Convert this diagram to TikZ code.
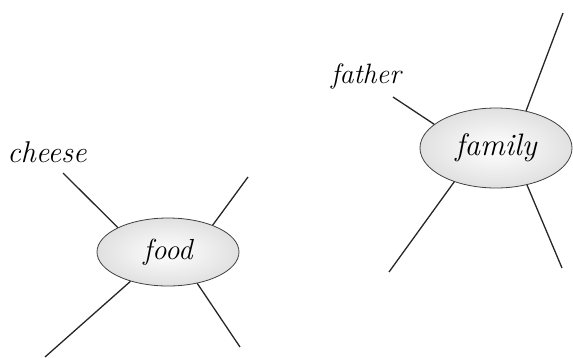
\documentclass[tikz,border=0pt]{standalone}
\usetikzlibrary{shapes.geometric}
\begin{document}
\begin{tikzpicture}[x=1pt,y=-1pt,
  topic/.style={ellipse,draw=black!75,line width=0.8pt,inner sep=0pt,
    inner color=white,outer color=black!12},
  branch/.style={draw=black!85,line width=1.3pt},
  word/.style={font=\itshape\fontsize{28}{32}\selectfont,inner sep=0pt}]
\useasboundingbox (0,0) rectangle (573,357);
% food
\node[topic,minimum width=142pt,minimum height=68pt,font=\itshape\fontsize{29}{32}\selectfont] (food) at (168,252) {food};
\coordinate (f1) at (63,173);
\coordinate (f2) at (248,177);
\coordinate (f3) at (45,357);
\coordinate (f4) at (240,347);
\draw[branch] (f1) -- (food.154);
\draw[branch] (f2) -- (food.31);
\draw[branch] (f3) -- (food.218);
\draw[branch] (f4) -- (food.313);
\node[word,font=\itshape\fontsize{30}{32}\selectfont] (cheese) at (47,152) {cheese};
% family
\node[topic,minimum width=152pt,minimum height=80pt,font=\itshape\fontsize{31}{34}\selectfont] (family) at (496,148) {family};
\coordinate (g1) at (393,97);
\coordinate (g2) at (563,13);
\coordinate (g3) at (389,272);
\coordinate (g4) at (562,268);
\draw[branch] (g1) -- (family.159);
\draw[branch] (g2) -- (family.51);
\draw[branch] (g3) -- (family.219);
\draw[branch] (g4) -- (family.310);
\node[word] (father) at (366,76) {father};
\end{tikzpicture}
\end{document}
